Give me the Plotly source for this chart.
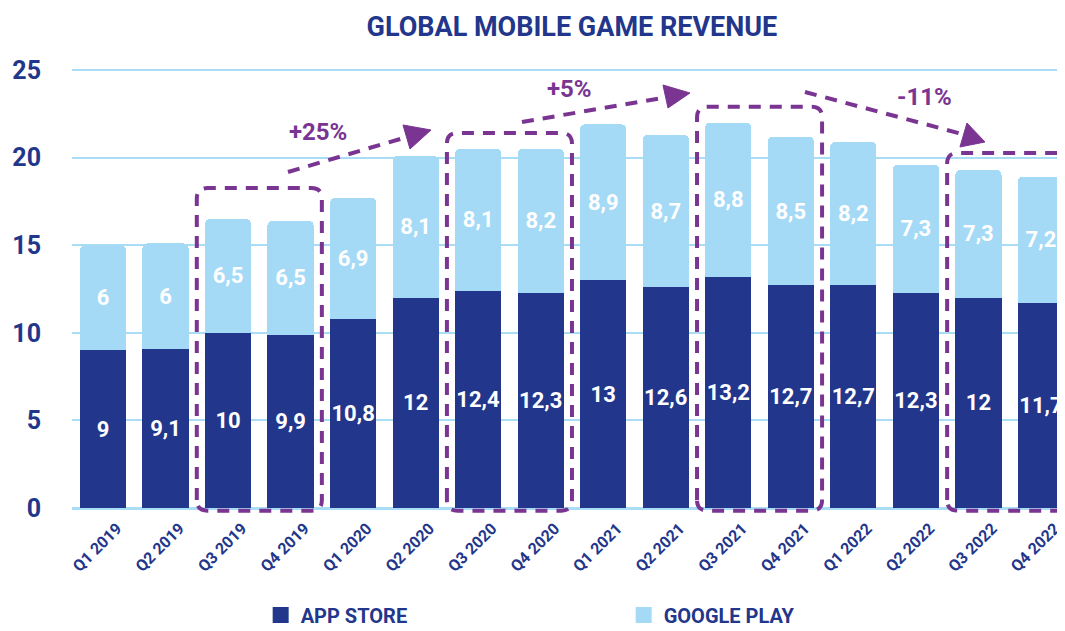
import plotly.graph_objects as go

quarters = ["Q1 2019", "Q2 2019", "Q3 2019", "Q4 2019",
            "Q1 2020", "Q2 2020", "Q3 2020", "Q4 2020",
            "Q1 2021", "Q2 2021", "Q3 2021", "Q4 2021",
            "Q1 2022", "Q2 2022", "Q3 2022", "Q4 2022"]
app_store = [9, 9.1, 10, 9.9, 10.8, 12, 12.4, 12.3, 13, 12.6, 13.2, 12.7, 12.7, 12.3, 12, 11.7]
google_play = [6, 6, 6.5, 6.5, 6.9, 8.1, 8.1, 8.2, 8.9, 8.7, 8.8, 8.5, 8.2, 7.3, 7.3, 7.2]
y_ticks = [0, 5, 10, 15, 20, 25]

DARK = "#22368b"
LIGHT = "#a4daf6"
PURPLE = "#7a3592"
GRID = "#a9dcf5"
FONT = "Roboto"

def fmt(v):
    return (f"{v:g}").replace(".", ",")

fig = go.Figure()
for name, vals, col in [("APP STORE", app_store, DARK), ("GOOGLE PLAY", google_play, LIGHT)]:
    fig.add_trace(go.Bar(
        x=quarters, y=vals, name=name, marker=dict(color=col, line=dict(width=0)),
        text=[fmt(v) for v in vals], textposition="inside", insidetextanchor="middle",
        textangle=0, constraintext="none", showlegend=False, legendgroup=name,
        textfont=dict(family=FONT, size=22, color="white", weight="bold"),
    ))
for name, col in [("APP STORE", DARK), ("GOOGLE PLAY", LIGHT)]:
    fig.add_trace(go.Scatter(
        x=[None], y=[None], mode="markers", name=name, legendgroup=name,
        marker=dict(symbol="square", size=22, color=col),
    ))

# screen-pixel -> data helper for decorations (plot area spans screen x 72..1065, y=0 at 508)
SX, SY = 62.53, 17.52
def P(px, py):
    return ((px - 72) / SX - 0.496, (508 - py) / SY)

def rrect(x0, x1, y0, y1, r=0.6):
    rx = r * SY / SX
    ry = r
    return (f"M {x0},{y0+ry} L {x0},{y1-ry} Q {x0},{y1} {x0+rx},{y1} "
            f"L {x1-rx},{y1} Q {x1},{y1} {x1},{y1-ry} L {x1},{y0+ry} "
            f"Q {x1},{y0} {x1-rx},{y0} L {x0+rx},{y0} Q {x0},{y0} {x0},{y0+ry} Z")

shapes = []
dash_line = dict(color=PURPLE, width=4, dash="12px,9px")
for (a, b, top) in [(1.5, 3.5, 18.26), (5.5, 7.5, 21.4), (9.5, 11.5, 22.9), (13.5, 15.6, 20.26)]:
    shapes.append(dict(type="path", path=rrect(a, b, -0.15, top), xref="x", yref="y",
                       line=dash_line, layer="above"))

def seg(p0, p1):
    (x0, y0), (x1, y1) = P(*p0), P(*p1)
    return dict(type="line", x0=x0, y0=y0, x1=x1, y1=y1, xref="x", yref="y",
                line=dash_line, layer="above")

def tri(a, b, c):
    pts = [P(*a), P(*b), P(*c)]
    path = "M " + " L ".join(f"{x},{y}" for x, y in pts) + " Z"
    return dict(type="path", path=path, xref="x", yref="y", fillcolor=PURPLE,
                line=dict(color=PURPLE, width=1), layer="above")

shapes += [
    seg((288, 172), (407, 137)), tri((403, 125), (431, 130), (410, 149)),
    seg((522, 122), (662, 98)), tri((663, 85), (690, 93), (668, 108)),
    seg((805, 92), (962, 134)), tri((967, 123), (985, 142), (960, 147)),
]

annotations = []
for label, (px, py) in [("+25%", (318, 132)), ("+5%", (570, 89)), ("-11%", (925, 97))]:
    x, y = P(px, py)
    annotations.append(dict(x=x, y=y, xref="x", yref="y", text=label, showarrow=False,
                            font=dict(family=FONT, size=24, color=PURPLE, weight="bold")))

# page body has an 8px margin, so the figure is 8px smaller and offset accordingly
fig.update_layout(
    width=1057, height=623,
    margin=dict(l=64, r=0, t=52, b=118, autoexpand=False),
    paper_bgcolor="white", plot_bgcolor="white",
    barmode="stack", bargap=0.26, barcornerradius=5,
    title=dict(text="GLOBAL MOBILE GAME REVENUE", x=0.5335, xanchor="center",
               y=0.9695, yanchor="middle", yref="container", automargin=False,
               font=dict(family=FONT, size=27, color=DARK, weight="bold")),
    xaxis=dict(type="category", range=[-0.496, 15.385], showgrid=False, zeroline=False,
               automargin=False, tickangle=-45, ticklabelshift=14, ticklabelstandoff=2,
               tickfont=dict(family=FONT, size=16, color=DARK, weight="bold"), showline=False),
    yaxis=dict(range=[-0.285, 25.57], tickvals=y_ticks, showgrid=True, gridcolor=GRID, gridwidth=2,
               automargin=False, zeroline=True, zerolinecolor=GRID, zerolinewidth=3,
               ticklabelstandoff=30,
               tickfont=dict(family=FONT, size=25, color=DARK, weight="bold")),
    legend=dict(orientation="h", x=0.19, xanchor="left", y=-0.225, yanchor="middle",
                entrywidth=318, font=dict(family=FONT, size=20, color=DARK, weight="bold"),
                traceorder="normal", itemsizing="trace", tracegroupgap=0),
    shapes=shapes, annotations=annotations,
)

fig.write_html("out.html")
